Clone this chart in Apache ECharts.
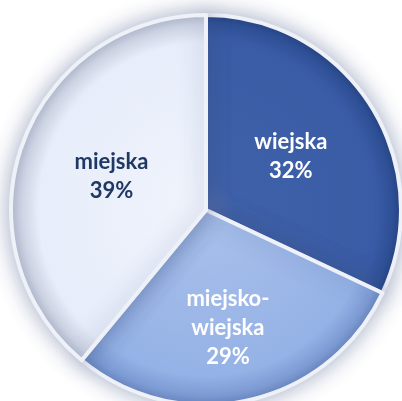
<!DOCTYPE html>
<html><head><meta charset="utf-8">
<script src="https://cdn.jsdelivr.net/npm/echarts@6/dist/echarts.min.js"></script>
<style>html,body{margin:0;padding:0;background:#fff}#c{width:402px;height:401px}</style>
</head><body><div id="c"></div>
<script>
const categories = ['wiejska', 'miejsko-wiejska', 'miejska'];
const labelTexts = ['wiejska\n32%', '{g| }\nmiejsko-\nwiejska\n29%', 'miejska\n39%'];
const values = [32, 29, 39];

const CX = 206, CY = 210, R = 195;
function rg(stops) {
  return { type: 'radial', x: CX, y: CY, r: R, global: true,
    colorStops: stops.map(s => ({ offset: s[0], color: s[1] })) };
}
const fills = [
  rg([[0, '#5470ae'], [0.15, '#3f61a9'], [0.88, '#3a5ca6'], [0.96, '#2e5097'], [1, '#24427f']]),
  rg([[0, '#a9c0ea'], [0.85, '#95b2e6'], [0.95, '#819fd8'], [1, '#6b88c2']]),
  rg([[0, '#f0f4fc'], [0.86, '#e7edfa'], [0.95, '#d2d8e6'], [1, '#b6bdcf']])
];
const labelColors = ['#ffffff', '#ffffff', '#1f3864'];

const data = categories.map((c, i) => ({
  name: c, value: values[i],
  itemStyle: { color: fills[i] },
  label: { formatter: labelTexts[i], color: labelColors[i] }
}));

const chart = echarts.init(document.getElementById('c'), null, { renderer: 'canvas' });
chart.setOption({
  backgroundColor: '#ffffff',
  animation: false,
  series: [{
    type: 'pie',
    center: [CX, CY],
    radius: [0, R],
    startAngle: 90,
    clockwise: true,
    avoidLabelOverlap: false,
    itemStyle: {
      borderColor: '#eef1f8', borderWidth: 4,
      shadowBlur: 22, shadowColor: 'rgba(60,80,130,0.45)'
    },
    label: {
      show: true, position: 'inside',
      fontFamily: 'Lato', fontWeight: 'bold', fontSize: 22, lineHeight: 29,
      align: 'center',
      rich: { g: { lineHeight: 40, fontSize: 2 } }
    },
    labelLine: { show: false },
    emphasis: { disabled: true },
    data: data
  }]
});
</script></body></html>
